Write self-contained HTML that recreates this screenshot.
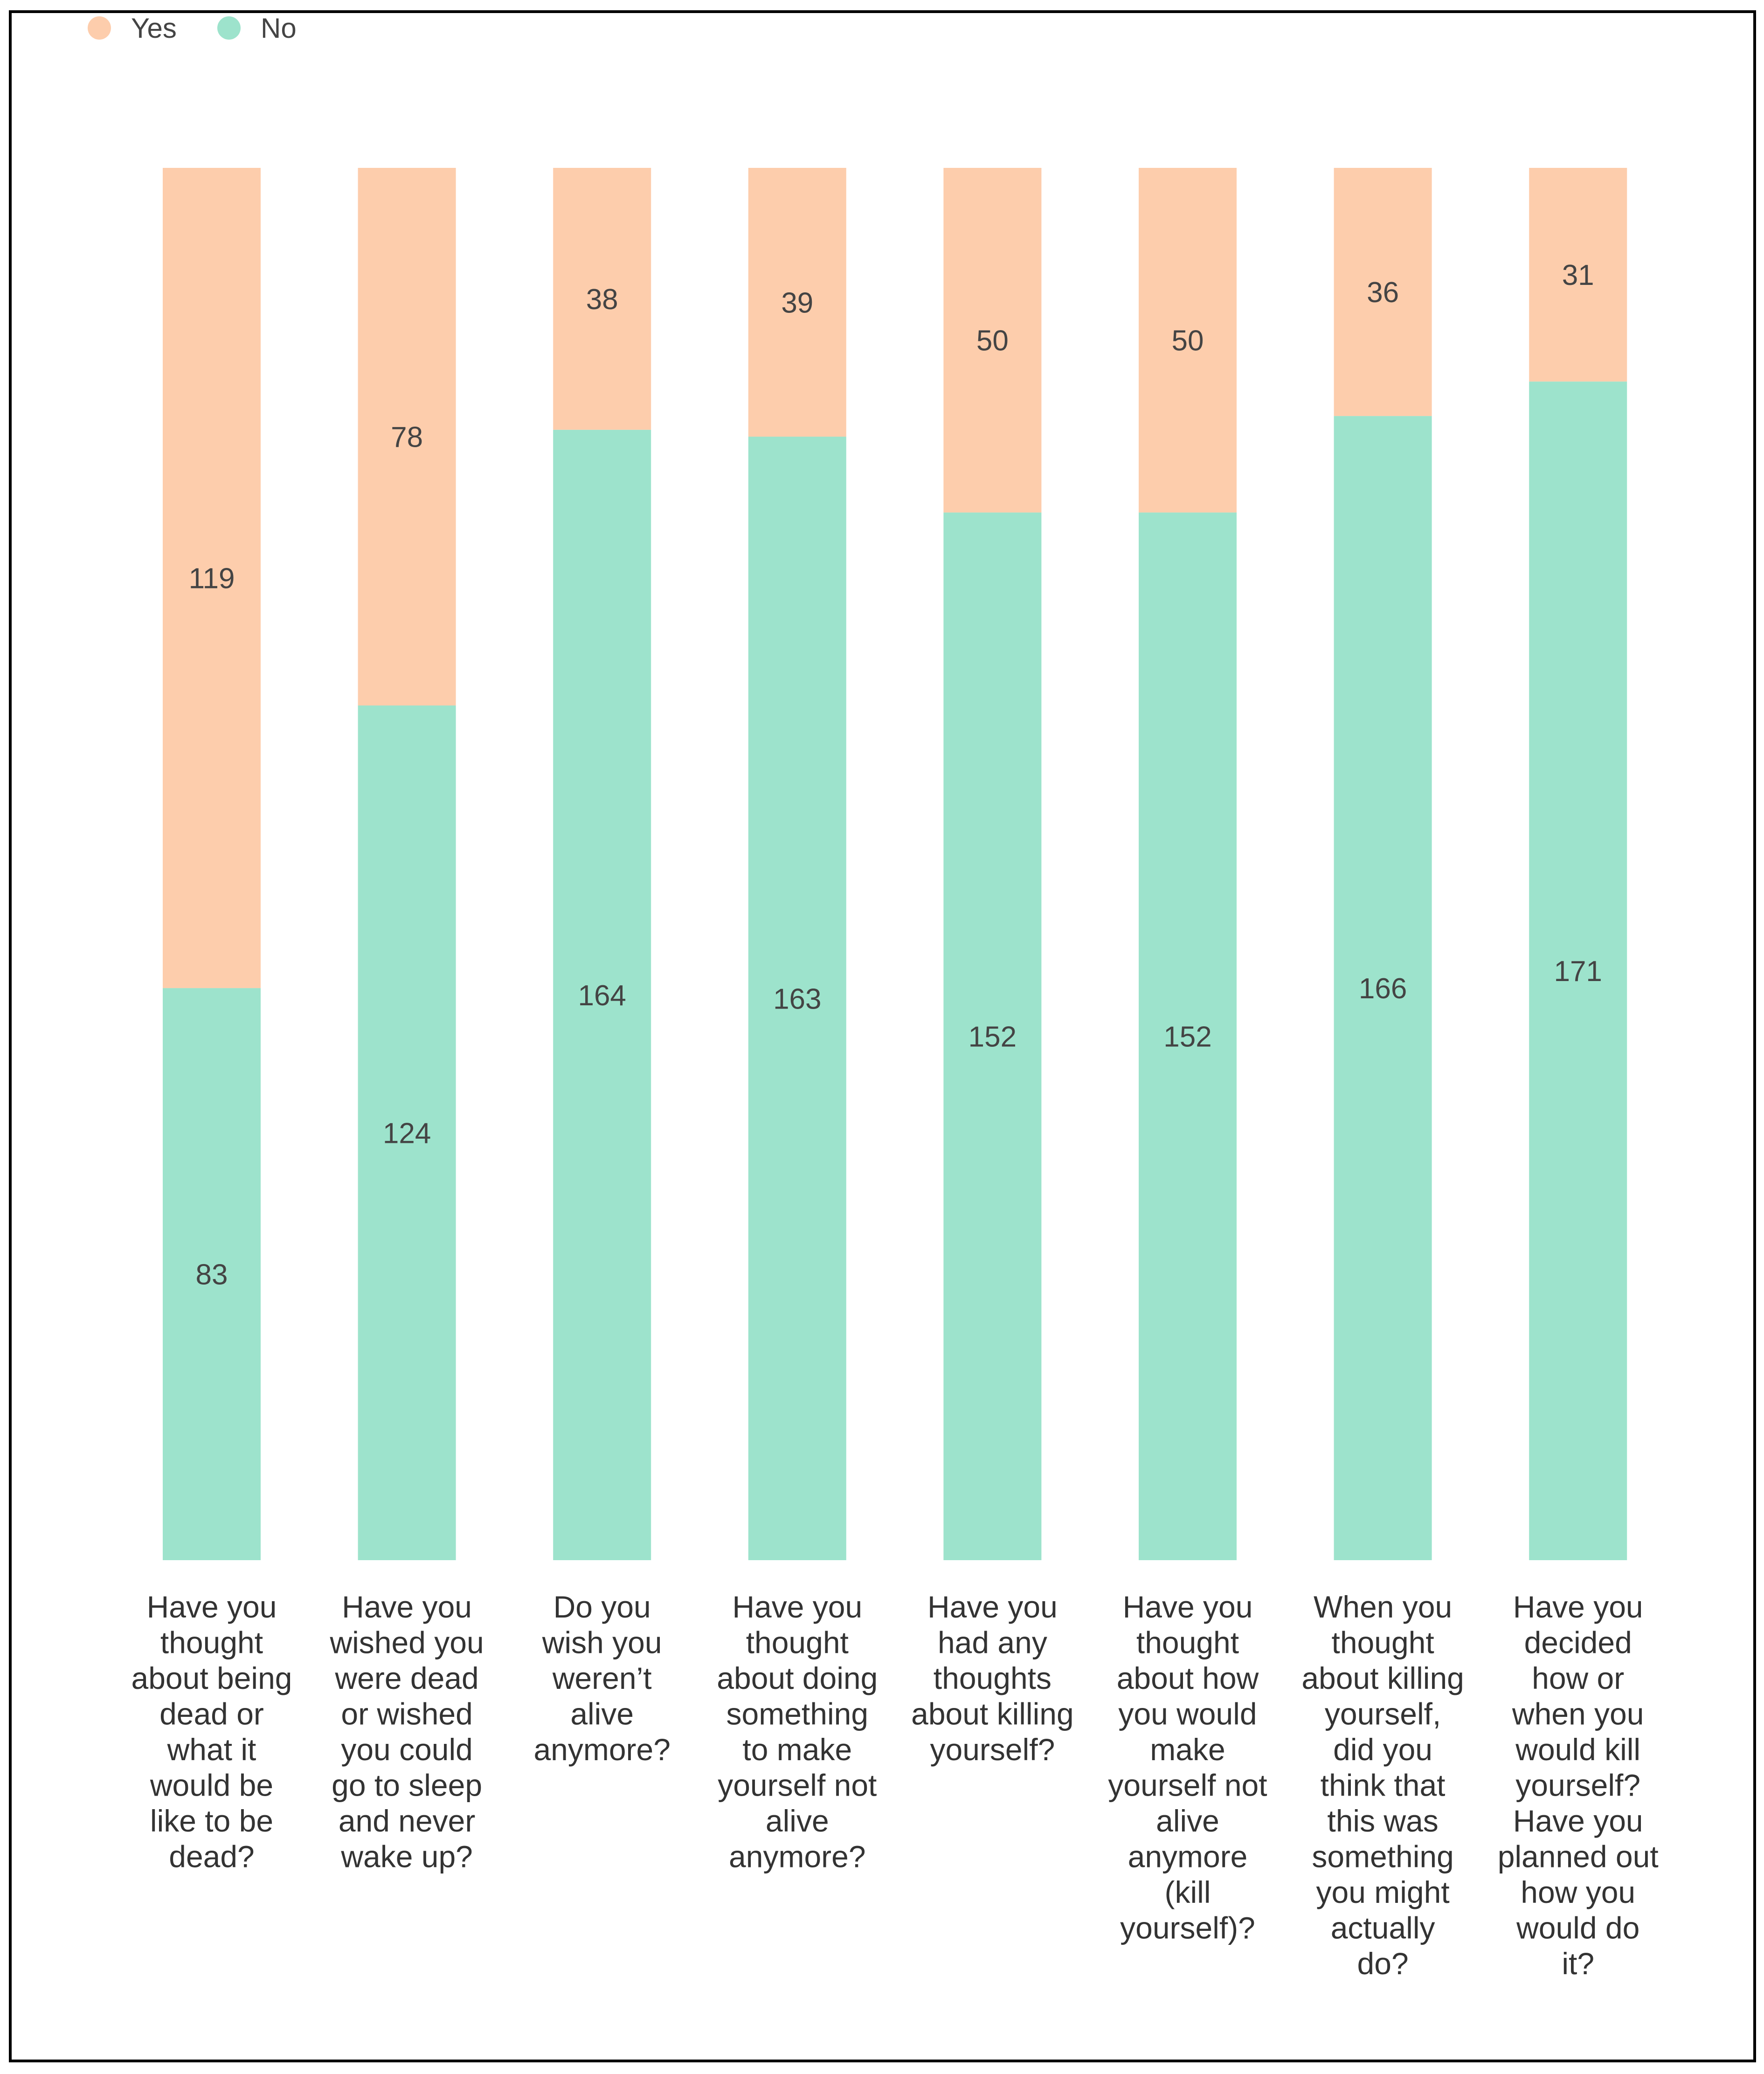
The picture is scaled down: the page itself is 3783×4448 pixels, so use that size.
<!DOCTYPE html>
<html><head><meta charset="utf-8"><style>
html,body{margin:0;padding:0;background:#fff;}
svg{display:block;font-family:"Liberation Sans",Arial,sans-serif;}
</style></head><body>
<svg id="chart" width="3783" height="4448" viewBox="0 0 3783 4448" xmlns="http://www.w3.org/2000/svg">
<rect x="22" y="25" width="3741" height="4395" fill="#fff" stroke="#000" stroke-width="6"/>
<g>
<circle cx="213" cy="60" r="25" fill="#FDCDAC"/>
<text x="281" y="81" font-size="60" fill="#444">Yes</text>
<circle cx="491" cy="60" r="25" fill="#9DE3CC"/>
<text x="559" y="81" font-size="60" fill="#444">No</text>
</g>
<g id="bars"></g>
<g id="cats"></g>
</svg>
<script>
const categories = [
 ["Have you","thought","about being","dead or","what it","would be","like to be","dead?"],
 ["Have you","wished you","were dead","or wished","you could","go to sleep","and never","wake up?"],
 ["Do you","wish you","weren\u2019t","alive","anymore?"],
 ["Have you","thought","about doing","something","to make","yourself not","alive","anymore?"],
 ["Have you","had any","thoughts","about killing","yourself?"],
 ["Have you","thought","about how","you would","make","yourself not","alive","anymore","(kill","yourself)?"],
 ["When you","thought","about killing","yourself,","did you","think that","this was","something","you might","actually","do?"],
 ["Have you","decided","how or","when you","would kill","yourself?","Have you","planned out","how you","would do","it?"]
];
const yesValues = [119,78,38,39,50,50,36,31];
const noValues = [83,124,164,163,152,152,166,171];

const NS="http://www.w3.org/2000/svg";
const plotTop=360, plotBottom=3346, x0=454, step=418.6, barW=210;
function xCenter(i){return x0+i*step;}
function yScale(v,total){return plotBottom-(v/total)*(plotBottom-plotTop);}
const bars=document.getElementById('bars');
const cats=document.getElementById('cats');
function mk(tag,attrs){const e=document.createElementNS(NS,tag);for(const k in attrs)e.setAttribute(k,attrs[k]);return e;}
for(let i=0;i<categories.length;i++){
  const total=yesValues[i]+noValues[i];
  const cx=xCenter(i);
  const yNoTop=yScale(noValues[i],total);
  const yYesTop=yScale(noValues[i]+yesValues[i],total);
  const rNo=mk('rect',{x:cx-barW/2,y:yNoTop,width:barW,height:plotBottom-yNoTop,fill:'#9DE3CC'});
  
  
  bars.appendChild(rNo);
  const rYes=mk('rect',{x:cx-barW/2,y:yYesTop,width:barW,height:yNoTop-yYesTop,fill:'#FDCDAC'});
  
  
  bars.appendChild(rYes);
  const tNo=mk('text',{x:cx,y:(yNoTop+plotBottom)/2+22,'text-anchor':'middle','font-size':62,fill:'#444'});
  tNo.textContent=noValues[i];
  
  
  bars.appendChild(tNo);
  const tYes=mk('text',{x:cx,y:(yYesTop+yNoTop)/2+22,'text-anchor':'middle','font-size':62,fill:'#444'});
  tYes.textContent=yesValues[i];
  
  
  bars.appendChild(tYes);
  const t=mk('text',{x:cx,'text-anchor':'middle','font-size':66,fill:'#333'});
  
  
  categories[i].forEach((line,j)=>{
    const s=mk('tspan',{x:cx,y:3469+j*76.5});
    s.textContent=line;
    t.appendChild(s);
  });
  cats.appendChild(t);
}
</script>
</body></html>
